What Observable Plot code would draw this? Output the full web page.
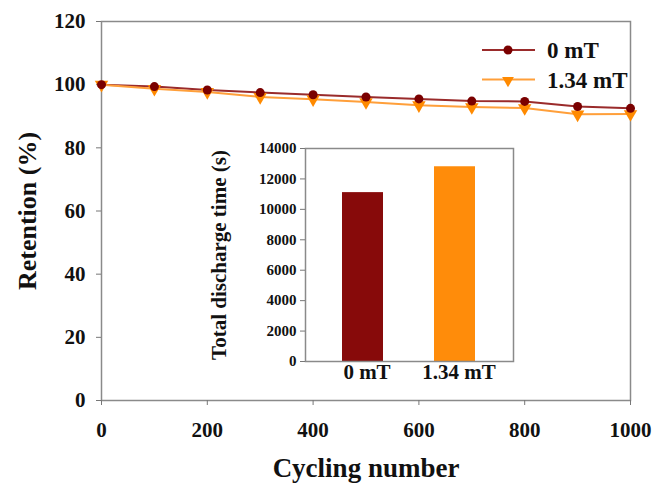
<!DOCTYPE html>
<html>
<head>
<meta charset="utf-8">
<script src="https://cdn.jsdelivr.net/npm/d3@7"></script>
<script src="https://cdn.jsdelivr.net/npm/@observablehq/plot@0.6"></script>
<style>
  html, body { margin: 0; padding: 0; background: #fff; }
  #wrap { position: relative; width: 655px; height: 484px; overflow: hidden; }
  #inset { position: absolute; left: 200px; top: 128px; }
  svg { font-family: "Liberation Serif", "Times New Roman", serif; font-weight: bold; }
  svg text { font-family: "Liberation Serif", "Times New Roman", serif !important; }
</style>
</head>
<body>
<div id="wrap"><div id="main"></div><div id="inset"></div></div>
<script>
// ---- data ----
const cycles = [0, 100, 200, 300, 400, 500, 600, 700, 800, 900, 1000];
const ret0mT = [100, 99.4, 98.3, 97.5, 96.8, 96.1, 95.5, 94.8, 94.7, 93.1, 92.5];
const ret134mT = [100, 98.7, 97.7, 96.1, 95.4, 94.5, 93.5, 92.9, 92.6, 90.6, 90.7];
const seriesNames = ["0 mT", "1.34 mT"];
const xTicks = [0, 200, 400, 600, 800, 1000];
const yTicks = [0, 20, 40, 60, 80, 100, 120];

const insetCats = ["0 mT", "1.34 mT"];
const insetTimes = [11100, 12800];
const insetTicks = [0, 2000, 4000, 6000, 8000, 10000, 12000, 14000];

const lineColors = ["#9a2b2b", "#ff9f3a"];
const dotColors = ["#7a0000", "#ff8a00"];
const barColors = ["#870a0a", "#ff8c0a"];
const serif = "Liberation Serif";

const rows = [];
cycles.forEach((c, i) => {
  rows.push({cycle: c, value: ret0mT[i], series: seriesNames[0]});
  rows.push({cycle: c, value: ret134mT[i], series: seriesNames[1]});
});
const s0 = rows.filter(d => d.series === seriesNames[0]);
const s1 = rows.filter(d => d.series === seriesNames[1]);

// ---- main chart ----
const main = Plot.plot({
  width: 655,
  height: 484,
  marginLeft: 101,
  marginRight: 25,
  marginTop: 21,
  marginBottom: 84,
  style: {fontFamily: "Liberation Serif, serif", fontWeight: "bold", background: "white", overflow: "visible"},
  x: {domain: [0, 1000]},
  y: {domain: [0, 120]},
  marks: [
    Plot.frame({stroke: "#8a8a8a", strokeWidth: 1.5}),
    Plot.axisY(yTicks, {tickSize: 5, tickPadding: 11, fontSize: 21, fontFamily: serif, fontWeight: "bold", stroke: "#777", fill: "#111", label: null, tickFormat: d => String(d)}),
    Plot.axisX(xTicks, {tickSize: 5, tickPadding: 17, fontSize: 21, fontFamily: serif, fontWeight: "bold", stroke: "#777", fill: "#111", label: null, tickFormat: d => String(d)}),
    Plot.line(s0, {x: "cycle", y: "value", stroke: lineColors[0], strokeWidth: 2}),
    Plot.line(s1, {x: "cycle", y: "value", stroke: lineColors[1], strokeWidth: 2}),
    Plot.dot(s1, {x: "cycle", y: "value", symbol: "triangle", rotate: 180, r: 5, fill: dotColors[1], stroke: "none"}),
    Plot.dot(s0, {x: "cycle", y: "value", r: 4.5, fill: dotColors[0], stroke: "none"}),
    Plot.text(["Cycling number"], {frameAnchor: "bottom", dy: 76, textAnchor: "middle", text: d => d, fontSize: 27, fontFamily: serif, fontWeight: "bold", fill: "#111"}),
    Plot.text(["Retention (%)"], {frameAnchor: "left", dx: -74, rotate: -90, textAnchor: "middle", text: d => d, fontSize: 26, fontFamily: serif, fontWeight: "bold", fill: "#111"})
  ]
});
document.getElementById("main").appendChild(main);

// legend
const svg = d3.select(main);
const lg = svg.append("g").attr("class", "legend");
seriesNames.forEach((name, i) => {
  const y = 50 + i * 29.5;
  lg.append("line").attr("x1", 482).attr("x2", 535).attr("y1", y).attr("y2", y)
    .attr("stroke", lineColors[i]).attr("stroke-width", 2);
  if (i === 0) {
    lg.append("circle").attr("cx", 508).attr("cy", y).attr("r", 4.5).attr("fill", dotColors[i]);
  } else {
    const sym = d3.symbol(d3.symbolTriangle, 60)();
    lg.append("path").attr("d", sym).attr("transform", `translate(508,${y + 1}) rotate(180)`).attr("fill", dotColors[i]);
  }
  lg.append("text").attr("x", 547).attr("y", y).attr("dy", "0.35em")
    .attr("text-anchor", "start").attr("font-family", serif)
    .attr("font-size", 23).attr("font-weight", "bold").attr("fill", "#111").text(name);
});

// ---- inset ----
const insetData = insetCats.map((c, i) => ({cat: c, time: insetTimes[i]}));
const inset = Plot.plot({
  width: 330,
  height: 262,
  marginLeft: 105,
  marginRight: 17,
  marginTop: 20,
  marginBottom: 29,
  style: {fontFamily: "Liberation Serif, serif", fontWeight: "bold", background: "white", overflow: "visible"},
  x: {domain: insetCats, paddingInner: 0.55, paddingOuter: 0.4},
  y: {domain: [0, 14000]},
  color: {domain: insetCats, range: barColors},
  marks: [
    Plot.barY(insetData, {x: "cat", y: "time", fill: "cat"}),
    Plot.frame({stroke: "#8a8a8a", strokeWidth: 1.5}),
    Plot.axisY(insetTicks, {tickSize: 5, tickPadding: 4, fontSize: 15, fontFamily: serif, fontWeight: "bold", stroke: "#777", fill: "#111", label: null, tickFormat: d => String(d)}),
    Plot.axisX({tickSize: 0, tickPadding: 3, fontSize: 21, fontFamily: serif, fontWeight: "bold", fill: "#111", dx: 4, label: null}),
    Plot.text(["Total discharge time (s)"], {frameAnchor: "left", dx: -86, rotate: -90, textAnchor: "middle", text: d => d, fontSize: 21, fontFamily: serif, fontWeight: "bold", fill: "#111"})
  ]
});
document.getElementById("inset").appendChild(inset);
</script>
</body>
</html>
